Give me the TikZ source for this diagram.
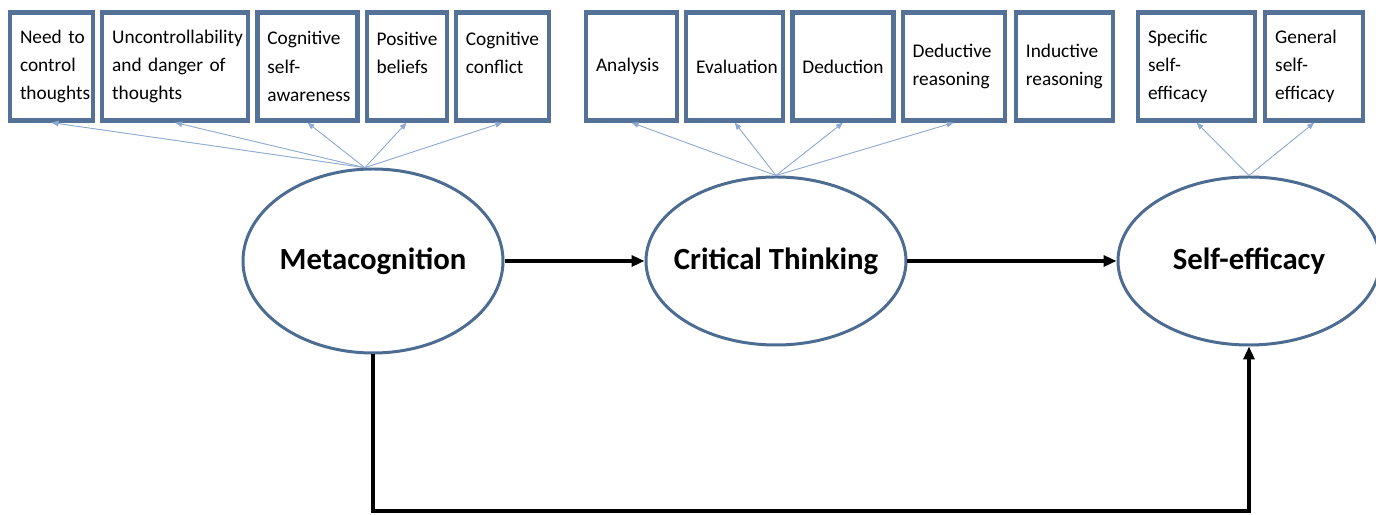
\documentclass[tikz,border=0pt]{standalone}
\usepackage{fontspec}
\setmainfont{Carlito}
\usepackage{tikz}
\usetikzlibrary{shapes.geometric, positioning, arrows.meta}
\definecolor{boxblue}{RGB}{84,114,152}
\definecolor{ringblue}{RGB}{76,108,146}
\definecolor{loadblue}{RGB}{140,170,208}
\hyphenpenalty=10000
\tikzset{
    item/.style={draw=boxblue, line width=2.4pt, fill=white, align=left, text width=#1, minimum height=2.16cm, inner xsep=0.2cm, font=\fontsize{11}{16}\selectfont}, % observed indicators
    latent/.style={ellipse, draw=ringblue, line width=1.7pt, fill=white, inner xsep=-0.5cm, inner ysep=0pt, minimum width=5.2cm, minimum height=3.36cm, font=\fontsize{17.5}{20}\selectfont\bfseries}, % latent constructs
    loading/.style={-{Triangle[length=0.14cm, width=0.11cm]}, draw=loadblue, fill=loadblue, line width=0.5pt},
    causal/.style={-{Triangle[length=0.26cm, width=0.22cm]}, line width=1.8pt},
}
\begin{document}
\begin{tikzpicture}
\useasboundingbox (0,0) rectangle (27.52,10.28);
% latent variables
\node[latent, minimum height=3.68cm] (meta) at (7.46,5.06) {Metacognition};
\node[latent, right=2.8cm of meta] (ct) {Critical Thinking};
\node[latent, minimum width=5.24cm, right=4.18cm of ct] (se) {Self-efficacy};
% indicators of metacognition
\node[item=1.26cm] (need) at (1.03,8.95) {Need~to\\control\\thoughts};
\node[item=2.52cm, right=0.1cm of need] (danger) {Uncontrollability\\and~danger~of\\thoughts};
\node[item=1.6cm, right=0.1cm of danger] (aware) {Cognitive\\self-\\awareness};
\node[item=1.2cm, right=0.1cm of aware] (belief) {Positive\\beliefs\\~};
\node[item=1.46cm, right=0.1cm of belief] (conflict) {Cognitive\\conflict\\~};
% indicators of critical thinking
\node[item=1.42cm] (analysis) at (12.63,8.95) {Analysis};
\node[item=1.54cm, right=0.1cm of analysis] (evaluation) {Evaluation};
\node[item=1.62cm, right=0.1cm of evaluation] (deduction) {Deduction};
\node[item=1.64cm, right=0.1cm of deduction] (deductive) {Deductive\\reasoning};
\node[item=1.54cm, right=0.14cm of deductive] (inductive) {Inductive\\reasoning};
% indicators of self-efficacy
\node[item=1.94cm] (specific) at (23.93,8.95) {Specific\\self-\\efficacy};
\node[item=1.56cm, right=0.12cm of specific] (general) {General\\self-\\efficacy};
% loadings
\foreach \b in {need,danger,aware,belief,conflict}
    \draw[loading] (meta.95) -- (\b.south);
\foreach \b in {analysis,evaluation,deduction,deductive}
    \draw[loading] (ct.90) -- (\b.south);
\foreach \b in {specific,general}
    \draw[loading] (se.90) -- (\b.south);
% paths
\draw[causal] (meta) -- (ct);
\draw[causal] (ct) -- (se);
\coordinate (low) at (7.46,0.06);
\draw[causal] (meta.south) -- (low) -| (se.south);
\end{tikzpicture}
\end{document}
